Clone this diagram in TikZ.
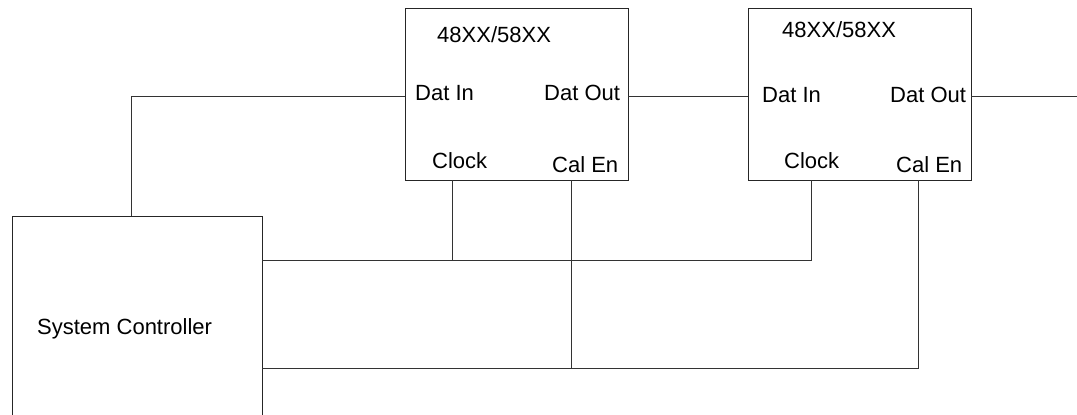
\documentclass[tikz,border=0pt]{standalone}
\usepackage{fontspec}
\setmainfont{Liberation Sans}
\begin{document}
\begin{tikzpicture}[x=1pt,y=-1pt,
  wire/.style={draw=black!80,line width=0.8pt},
  boxshape/.style={draw=black!85,line width=0.8pt,inner sep=0pt,outer sep=0pt},
  lbl/.style={anchor=base west,inner sep=0pt,font=\fontsize{22}{26}\selectfont}]
\useasboundingbox (0,0) rectangle (1077,415);
% boxes
\node[boxshape,minimum width=223pt,minimum height=172pt] (b1) at (516.5,94) {};
\node[boxshape,minimum width=223pt,minimum height=172pt] (b2) at (859.5,94) {};
\node[inner sep=0pt,outer sep=0pt,minimum width=250pt,minimum height=204pt] (ctrl) at (137,318) {};
\draw[boxshape] (ctrl.south west) |- (ctrl.north east) -- (ctrl.south east);
% labels
\node[lbl] (t1) at (437,42) {48XX/58XX};
\node[lbl] (t1in) at (415,100) {Dat In};
\node[lbl] (t1out) at (544,100) {Dat Out};
\node[lbl] (t1clk) at (432,168) {Clock};
\node[lbl] (t1cal) at (552,172) {Cal En};
\node[lbl] (t2) at (782,37) {48XX/58XX};
\node[lbl] (t2in) at (762,102) {Dat In};
\node[lbl] (t2out) at (890,102) {Dat Out};
\node[lbl] (t2clk) at (784,168) {Clock};
\node[lbl] (t2cal) at (896,172) {Cal En};
\node[lbl] (tc) at (37,334) {System Controller};
% pins
\coordinate (cdin) at (131,216);
\coordinate (b1din) at (405,96);
\coordinate (b1dout) at (628,96);
\coordinate (b2din) at (748,96);
\coordinate (b2dout) at (971,96);
\coordinate (dend) at (1077,96);
\coordinate (b1clk) at (452,180);
\coordinate (b1cal) at (571,180);
\coordinate (b2clk) at (811,180);
\coordinate (b2cal) at (918,180);
\coordinate (cclk) at (262,260);
\coordinate (ccal) at (262,368);
% wires
\draw[wire] (cdin) |- (b1din);
\draw[wire] (b1dout) -- (b2din);
\draw[wire] (b2dout) -- (dend);
\draw[wire] (cclk) -| (b2clk);
\draw[wire] (b1clk) -- (b1clk |- cclk);
\draw[wire] (ccal) -| (b2cal);
\draw[wire] (b1cal) -- (b1cal |- ccal);
\end{tikzpicture}
\end{document}
